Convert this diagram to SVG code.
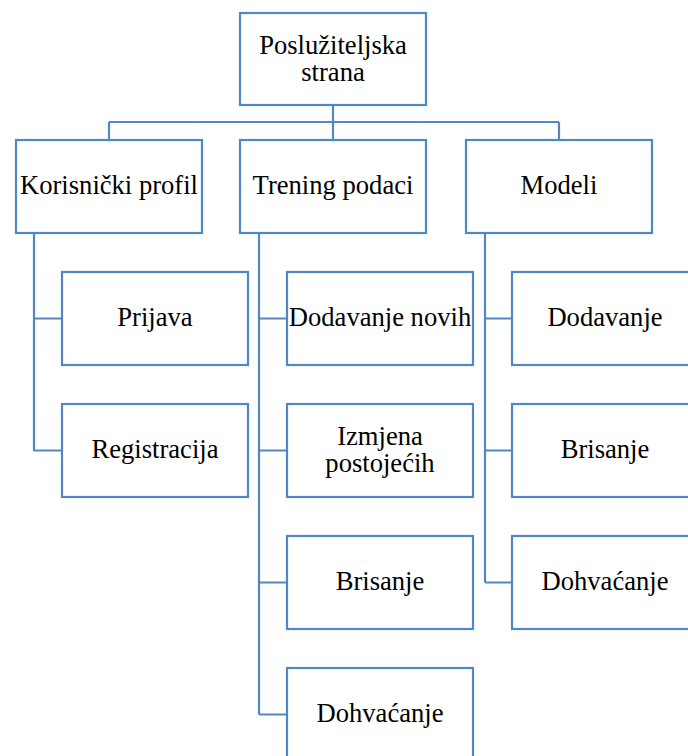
<svg xmlns="http://www.w3.org/2000/svg" width="688" height="756" viewBox="0 0 688 756">
<style>
.box{fill:#fff;stroke:#5187C4;stroke-width:2.2}
.ln{fill:none;stroke:#5187C4;stroke-width:2.2}
</style>
<rect width="688" height="756" fill="#fff"/>
<g id="connectors">
<path class="ln" d="M333,105 V122 M109,122 H559 M109,122 V140 M333,122 V140 M559,122 V140"/>
<path class="ln" d="M34,233 V451 M34,318.5 H62 M34,450.5 H62"/>
<path class="ln" d="M259,233 V714.5 M259,318.5 H287 M259,450.5 H287 M259,582.5 H287 M259,714.5 H287"/>
<path class="ln" d="M485,233 V582.5 M485,318.5 H512 M485,450.5 H512 M485,582.5 H512"/>
</g>
<g font-family="Liberation Serif, serif" font-size="26.6" text-anchor="middle" fill="#000">
<g id="root"><rect class="box" x="240" y="13" width="186" height="92"/><text x="333" y="53.5">Poslužiteljska</text><text x="333" y="80.5">strana</text></g>
<g id="korisnicki"><rect class="box" x="16" y="140" width="186" height="93"/><text x="109" y="194">Korisnički profil</text></g>
<g id="trening"><rect class="box" x="240" y="140" width="186" height="93"/><text x="333" y="194">Trening podaci</text></g>
<g id="modeli"><rect class="box" x="466" y="140" width="186" height="93"/><text x="559" y="194">Modeli</text></g>
<g id="prijava"><rect class="box" x="62" y="272" width="186" height="93"/><text x="155" y="326">Prijava</text></g>
<g id="registracija"><rect class="box" x="62" y="404" width="186" height="93"/><text x="155" y="458">Registracija</text></g>
<g id="dodavanje-novih"><rect class="box" x="287" y="272" width="186" height="93"/><text x="380" y="326">Dodavanje novih</text></g>
<g id="izmjena"><rect class="box" x="287" y="404" width="186" height="93"/><text x="380" y="445">Izmjena</text><text x="380" y="472">postojećih</text></g>
<g id="brisanje-t"><rect class="box" x="287" y="536" width="186" height="93"/><text x="380" y="590">Brisanje</text></g>
<g id="dohvacanje-t"><rect class="box" x="287" y="668" width="186" height="93"/><text x="380" y="722">Dohvaćanje</text></g>
<g id="dodavanje-m"><rect class="box" x="512" y="272" width="186" height="93"/><text x="605" y="326">Dodavanje</text></g>
<g id="brisanje-m"><rect class="box" x="512" y="404" width="186" height="93"/><text x="605" y="458">Brisanje</text></g>
<g id="dohvacanje-m"><rect class="box" x="512" y="536" width="186" height="93"/><text x="605" y="590">Dohvaćanje</text></g>
</g>
</svg>
